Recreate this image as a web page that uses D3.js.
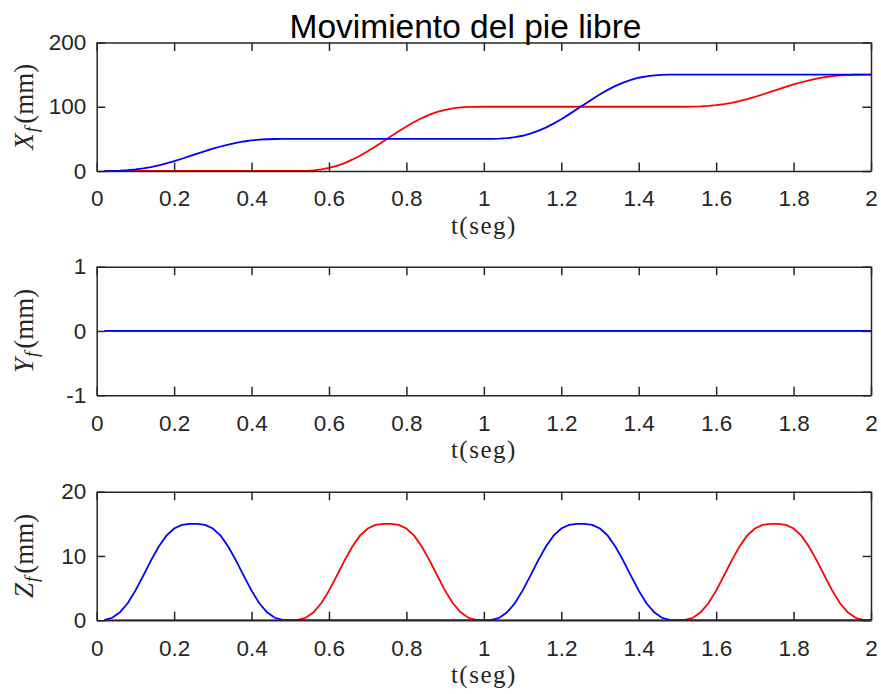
<!DOCTYPE html>
<html>
<head>
<meta charset="utf-8">
<script src="https://cdn.jsdelivr.net/npm/d3@7"></script>
<style>
  body { margin: 0; background: #fff; }
  svg { display: block; }
</style>
</head>
<body>
<svg id="chart" width="881" height="694"></svg>
<script>
// time samples (s)
const t = [0.02,0.04,0.06,0.08,0.1,0.12,0.14,0.16,0.18,0.2,0.22,0.24,0.26,0.28,0.3,0.32,0.34,0.36,0.38,0.4,0.42,0.44,0.46,0.48,0.5,
  0.52,0.54,0.56,0.58,0.6,0.62,0.64,0.66,0.68,0.7,0.72,0.74,0.76,0.78,0.8,0.82,0.84,0.86,0.88,0.9,0.92,0.94,0.96,0.98,1,
  1.02,1.04,1.06,1.08,1.1,1.12,1.14,1.16,1.18,1.2,1.22,1.24,1.26,1.28,1.3,1.32,1.34,1.36,1.38,1.4,1.42,1.44,1.46,1.48,1.5,
  1.52,1.54,1.56,1.58,1.6,1.62,1.64,1.66,1.68,1.7,1.72,1.74,1.76,1.78,1.8,1.82,1.84,1.86,1.88,1.9,1.92,1.94,1.96,1.98,2];

// X_f (mm)
const xBlue = [0.02,0.17,0.55,1.28,2.43,4.06,6.18,8.8,11.87,15.32,19.07,23,27,30.93,34.68,38.13,41.2,43.82,45.94,47.57,48.72,49.45,49.83,49.98,50,
  50,50,50,50,50,50,50,50,50,50,50,50,50,50,50,50,50,50,50,50,50,50,50,50,50,
  50.04,50.33,51.11,52.56,54.86,58.12,62.37,67.6,73.74,80.65,88.14,96.01,104,111.86,119.36,126.26,132.4,137.63,141.88,145.14,147.44,148.89,149.67,149.96,150,
  150,150,150,150,150,150,150,150,150,150,150,150,150,150,150,150,150,150,150,150,150,150,150,150,150];
const xRed = [0,0,0,0,0,0,0,0,0,0,0,0,0,0,0,0,0,0,0,0,0,0,0,0,0,
  0.04,0.33,1.11,2.56,4.86,8.12,12.37,17.6,23.74,30.65,38.14,46.01,54,61.86,69.36,76.26,82.4,87.63,91.88,95.14,97.44,98.89,99.67,99.96,100,
  100,100,100,100,100,100,100,100,100,100,100,100,100,100,100,100,100,100,100,100,100,100,100,100,100,
  100.02,100.17,100.55,101.28,102.43,104.06,106.18,108.8,111.87,115.32,119.07,123,127,130.93,134.68,138.13,141.2,143.82,145.94,147.57,148.72,149.45,149.83,149.98,150];

// Y_f (mm)
const yBlue = [0,0,0,0,0,0,0,0,0,0,0,0,0,0,0,0,0,0,0,0,0,0,0,0,0,
  0,0,0,0,0,0,0,0,0,0,0,0,0,0,0,0,0,0,0,0,0,0,0,0,0,
  0,0,0,0,0,0,0,0,0,0,0,0,0,0,0,0,0,0,0,0,0,0,0,0,0,
  0,0,0,0,0,0,0,0,0,0,0,0,0,0,0,0,0,0,0,0,0,0,0,0,0];
const yRed = [0,0,0,0,0,0,0,0,0,0,0,0,0,0,0,0,0,0,0,0,0,0,0,0,0,
  0,0,0,0,0,0,0,0,0,0,0,0,0,0,0,0,0,0,0,0,0,0,0,0,0,
  0,0,0,0,0,0,0,0,0,0,0,0,0,0,0,0,0,0,0,0,0,0,0,0,0,
  0,0,0,0,0,0,0,0,0,0,0,0,0,0,0,0,0,0,0,0,0,0,0,0,0];

// Z_f (mm)
const zBlue = [0.05,0.38,1.22,2.64,4.6,6.9,9.28,11.44,13.15,14.27,14.83,14.99,14.99,14.83,14.27,13.15,11.44,9.28,6.9,4.6,2.64,1.22,0.38,0.05,0,
  0,0,0,0,0,0,0,0,0,0,0,0,0,0,0,0,0,0,0,0,0,0,0,0,0,
  0.05,0.38,1.22,2.64,4.6,6.9,9.28,11.44,13.15,14.27,14.83,14.99,14.99,14.83,14.27,13.15,11.44,9.28,6.9,4.6,2.64,1.22,0.38,0.05,0,
  0,0,0,0,0,0,0,0,0,0,0,0,0,0,0,0,0,0,0,0,0,0,0,0,0];
const zRed = [0,0,0,0,0,0,0,0,0,0,0,0,0,0,0,0,0,0,0,0,0,0,0,0,0,
  0.05,0.38,1.22,2.64,4.6,6.9,9.28,11.44,13.15,14.27,14.83,14.99,14.99,14.83,14.27,13.15,11.44,9.28,6.9,4.6,2.64,1.22,0.38,0.05,0,
  0,0,0,0,0,0,0,0,0,0,0,0,0,0,0,0,0,0,0,0,0,0,0,0,0,
  0.05,0.38,1.22,2.64,4.6,6.9,9.28,11.44,13.15,14.27,14.83,14.99,14.99,14.83,14.27,13.15,11.44,9.28,6.9,4.6,2.64,1.22,0.38,0.05,0];

const xTicks = [0,0.2,0.4,0.6,0.8,1,1.2,1.4,1.6,1.8,2];
const xTickLabels = ["0","0.2","0.4","0.6","0.8","1","1.2","1.4","1.6","1.8","2"];

const title = "Movimiento del pie libre";
const xLabel = "t(seg)";

const panels = [
  { letter: "X", domain: [0, 200], ticks: [0, 100, 200], tickLabels: ["0", "100", "200"], red: xRed, blue: xBlue },
  { letter: "Y", domain: [-1, 1], ticks: [-1, 0, 1], tickLabels: ["-1", "0", "1"], red: yRed, blue: yBlue },
  { letter: "Z", domain: [0, 20], ticks: [0, 10, 20], tickLabels: ["0", "10", "20"], red: zRed, blue: zBlue }
];

const left = 96.7, right = 871;
const tops = [42.5, 266.7, 491.7];
const plotH = 128.5;
const axisColor = "#262626";
const tickLen = 8.5;
const sans = "'Liberation Sans', Arial, Helvetica, sans-serif";
const serif = "'Liberation Serif', 'Times New Roman', serif";

const svg = d3.select("#chart");

const x = d3.scaleLinear().domain([0, 2]).range([left, right]);

panels.forEach((p, i) => {
  const top = tops[i], bottom = top + plotH;
  const y = d3.scaleLinear().domain(p.domain).range([bottom, top]);

  const g = svg.append("g");

  const line = d3.line()
    .x((d, j) => x(t[j]))
    .y(d => y(d));

  g.append("path")
    .datum(p.red)
    .attr("fill", "none")
    .attr("stroke", "#ff0000")
    .attr("stroke-width", 1.8)
    .attr("d", line);

  g.append("path")
    .datum(p.blue)
    .attr("fill", "none")
    .attr("stroke", "#0000ff")
    .attr("stroke-width", 1.8)
    .attr("d", line);

  const styleAxis = sel => {
    sel.select(".domain").attr("stroke", axisColor).attr("stroke-width", 1.5);
    sel.selectAll(".tick line").attr("stroke", axisColor).attr("stroke-width", 1.5);
    sel.selectAll(".tick text")
      .attr("fill", axisColor)
      .style("font-family", sans)
      .style("font-size", "22.5px");
  };

  // bottom axis with labels
  g.append("g")
    .attr("transform", `translate(0,${bottom})`)
    .call(d3.axisBottom(x).tickValues(xTicks)
      .tickFormat((d, j) => xTickLabels[j])
      .tickSizeInner(-tickLen).tickSizeOuter(0).tickPadding(19.5))
    .call(styleAxis);

  // top axis (ticks only)
  g.append("g")
    .attr("transform", `translate(0,${top})`)
    .call(d3.axisTop(x).tickValues(xTicks).tickFormat("")
      .tickSizeInner(-tickLen).tickSizeOuter(0))
    .call(styleAxis);

  // left axis with labels
  g.append("g")
    .attr("transform", `translate(${left},0)`)
    .call(d3.axisLeft(y).tickValues(p.ticks).tickFormat((d, j) => p.tickLabels[j])
      .tickSizeInner(-tickLen).tickSizeOuter(0).tickPadding(10.5))
    .call(styleAxis);

  // right axis (ticks only)
  g.append("g")
    .attr("transform", `translate(${right},0)`)
    .call(d3.axisRight(y).tickValues(p.ticks).tickFormat("")
      .tickSizeInner(-tickLen).tickSizeOuter(0))
    .call(styleAxis);

  // x label
  g.append("text")
    .attr("x", (left + right) / 2)
    .attr("y", bottom + 62.5)
    .attr("text-anchor", "middle")
    .attr("fill", axisColor)
    .style("font-family", serif)
    .style("font-size", "25px")
    .style("letter-spacing", "1.5px")
    .text(xLabel);

  // y label
  const yl = g.append("text")
    .attr("transform", `translate(33,${(top + bottom) / 2}) rotate(-90)`)
    .attr("text-anchor", "middle")
    .attr("fill", axisColor)
    .style("font-family", serif)
    .style("font-size", "27px");
  yl.append("tspan").style("font-style", "italic").text(p.letter);
  yl.append("tspan").style("font-style", "italic").style("font-size", "19px")
    .attr("dy", 5).attr("dx", 1).text("f");
  yl.append("tspan").attr("dy", -5).attr("dx", 3).text("(mm)");
});

svg.append("text")
  .attr("x", 465.5)
  .attr("y", 37.5)
  .attr("text-anchor", "middle")
  .attr("fill", "#000")
  .style("font-family", sans)
  .style("font-size", "33.5px")
  .text(title);
</script>
</body>
</html>
